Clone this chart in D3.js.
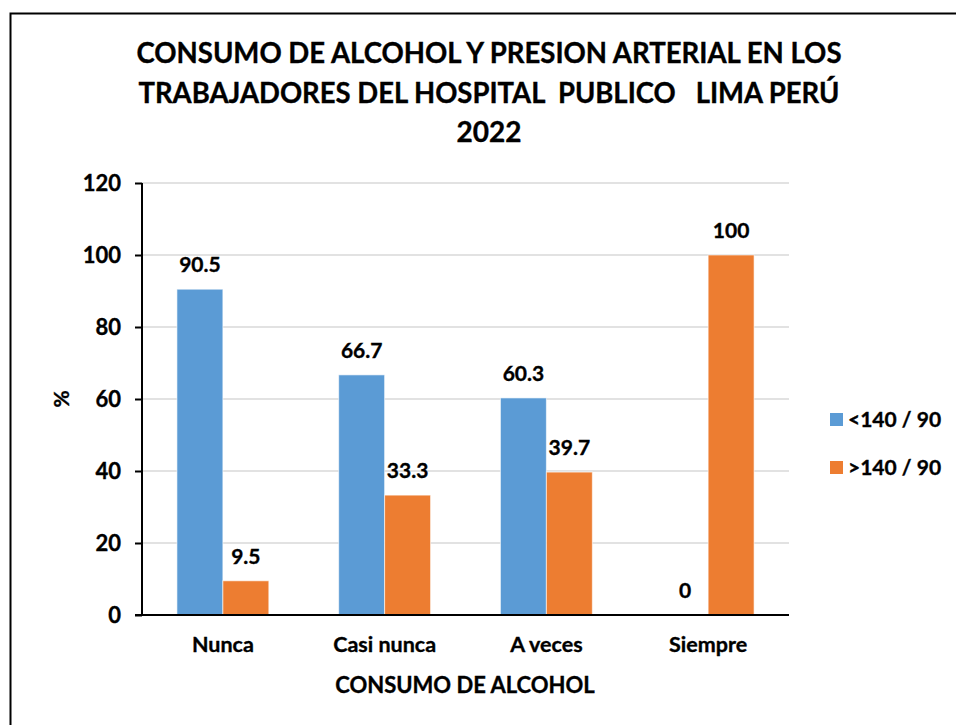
<!DOCTYPE html>
<html>
<head>
<meta charset="utf-8">
<script src="https://cdn.jsdelivr.net/npm/d3@7"></script>
<style>
	body { margin: 0; background: #fff; }
	svg text { font-family: Lato, "Open Sans", sans-serif; font-weight: bold; fill: #000; stroke: #000; stroke-width: 0.35px; }
</style>
</head>
<body>
<div id="graph"></div>
<script>
const titleLines = ["CONSUMO DE ALCOHOL Y PRESION ARTERIAL EN LOS", "TRABAJADORES DEL HOSPITAL  PUBLICO   LIMA PERÚ", "2022"];
const categories = ["Nunca", "Casi nunca", "A veces", "Siempre"];
const seriesNames = ["<140 / 90", ">140 / 90"];
const below = [90.5, 66.7, 60.3, 0];
const above = [9.5, 33.3, 39.7, 100];
const yTicks = [0, 20, 40, 60, 80, 100, 120];
const colors = ["#5B9BD5", "#ED7D31"];

const svgWidth = 956;
const svgHeight = 725;
const plot = {left: 142, right: 789, top: 183, bottom: 615};

const svg = d3.select('#graph').append('svg')
	.attr('width', svgWidth)
	.attr('height', svgHeight);

// frame (only top and left edges show in the picture)
svg.append('path')
	.attr('d', `M10.5,${svgHeight} V13.5 H${svgWidth}`)
	.attr('fill', 'none')
	.attr('stroke', '#000')
	.attr('stroke-width', 2);

// title
const titleWidths = [705, 701, 65];
svg.append('g').selectAll('text').data(titleLines).enter()
	.append('text')
	.attr('x', 489)
	.attr('y', (d, i) => 63 + i * 39.5)
	.attr('text-anchor', 'middle')
	.attr('font-size', 28)
	.attr('textLength', (d, i) => titleWidths[i])
	.attr('lengthAdjust', 'spacingAndGlyphs')
	.style('white-space', 'pre')
	.text(d => d);

const yScale = d3.scaleLinear()
	.domain([0, 120])
	.range([plot.bottom, plot.top]);

const xScale = d3.scaleBand()
	.domain(categories)
	.range([plot.left, plot.right]);

const xSub = d3.scaleBand()
	.domain(seriesNames)
	.range([0, xScale.bandwidth()])
	.paddingOuter(0.76)
	.paddingInner(0);

// gridlines
svg.append('g').selectAll('line').data(yTicks.filter(d => d > 0)).enter()
	.append('line')
	.attr('x1', plot.left)
	.attr('x2', plot.right)
	.attr('y1', d => yScale(d))
	.attr('y2', d => yScale(d))
	.attr('stroke', '#d9d9d9')
	.attr('stroke-width', 1.5);

// bars
const rows = categories.map((c, i) => ({cat: c, values: [below[i], above[i]]}));
const groups = svg.append('g').selectAll('g').data(rows).enter()
	.append('g')
	.attr('transform', d => `translate(${xScale(d.cat)},0)`);

groups.selectAll('rect').data(d => d.values.map((v, j) => ({v, s: seriesNames[j], j}))).enter()
	.append('rect')
	.attr('x', d => xSub(d.s))
	.attr('y', d => yScale(d.v))
	.attr('width', xSub.bandwidth())
	.attr('height', d => plot.bottom - yScale(d.v))
	.attr('fill', d => colors[d.j])
	.attr('stroke', '#fff')
	.attr('stroke-opacity', 0.6)
	.attr('stroke-width', 1);

groups.selectAll('text').data(d => d.values.map((v, j) => ({v, s: seriesNames[j]}))).enter()
	.append('text')
	.attr('x', d => xSub(d.s) + xSub.bandwidth() / 2)
	.attr('y', d => yScale(d.v) - 17)
	.attr('text-anchor', 'middle')
	.attr('font-size', 21)
	.text(d => d.v);

// y axis
const yAxis = d3.axisLeft(yScale).tickValues(yTicks).tickSize(7).tickPadding(14);
const yG = svg.append('g')
	.attr('transform', `translate(${plot.left}, 0)`)
	.call(yAxis);
yG.select('.domain').attr('stroke', '#000').attr('stroke-width', 2).attr('d', `M0,${plot.top}V${plot.bottom}`);
yG.selectAll('.tick line').attr('stroke', '#000').attr('stroke-width', 2);
yG.selectAll('.tick text').attr('font-size', 22).attr('font-family', null);

// x axis
const xAxis = d3.axisBottom(xScale).tickSize(0).tickPadding(22);
const xG = svg.append('g')
	.attr('transform', `translate(0, ${plot.bottom})`)
	.call(xAxis);
xG.select('.domain').attr('stroke', '#000').attr('stroke-width', 2).attr('d', `M${plot.left - 7},0H${plot.right}`);
xG.selectAll('.tick text').attr('font-size', 21.5).attr('font-family', null);

// axis titles
svg.append('text')
	.attr('x', 465)
	.attr('y', 693)
	.attr('text-anchor', 'middle')
	.attr('font-size', 22)
	.text('CONSUMO DE ALCOHOL');

svg.append('text')
	.attr('transform', 'translate(69, 399) rotate(-90)')
	.attr('text-anchor', 'middle')
	.attr('font-size', 21)
	.text('%');

// legend
const legend = svg.append('g').selectAll('g').data(seriesNames).enter()
	.append('g')
	.attr('transform', (d, i) => `translate(830, ${413 + i * 48})`);
legend.append('rect')
	.attr('width', 13)
	.attr('height', 13)
	.attr('fill', (d, i) => colors[i]);
legend.append('text')
	.attr('x', 18)
	.attr('y', 14)
	.attr('font-size', 21)
	.text(d => d);
</script>
</body>
</html>
